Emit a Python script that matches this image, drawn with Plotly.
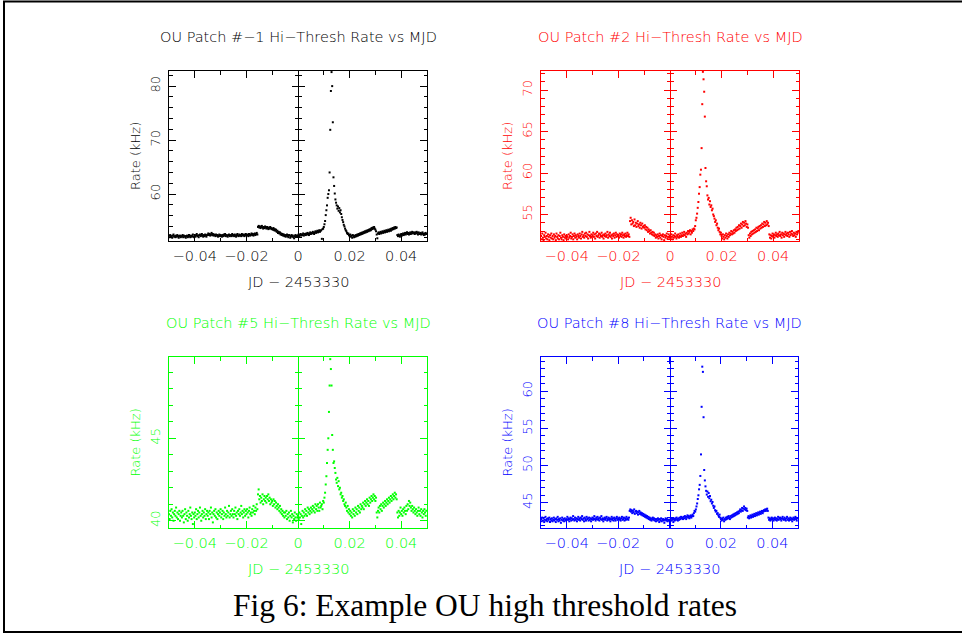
import numpy as np
import plotly.graph_objects as go

W, H = 962, 634

# ---- data: JD - 2453330 sampling and rates (kHz) per OU patch ----
t_start = -0.05
t_step = 0.00025

rate_patch_m1 = [
    52.3, 52.0, 52.4, 52.1, 52.2, 51.9, 52.3, 52.5, 52.1, 52.2, 52.0, 52.3, 52.1, 52.4, 52.2, 51.9, 52.2, 52.3, 52.0, 52.1,
    52.2, 52.4, 52.0, 52.3, 52.1, 52.2, 51.9, 52.2, 52.3, 52.0, 52.1, 52.4, 52.2, 52.0, 52.3, 52.1, 52.2, 52.5, 52.1, 52.0,
    52.3, 52.1, 52.4, 52.6, 52.2, 52.3, 52.0, 52.4, 52.5, 52.2, 52.3, 52.6, 52.3, 52.1, 52.4, 52.2, 52.5, 52.3, 52.1, 52.4,
    52.5, 52.7, 52.4, 52.6, 52.3, 52.5, 52.8, 52.4, 52.6, 52.3, 52.5, 52.4, 52.2, 52.5, 52.3, 52.4, 52.1, 52.3, 52.5, 52.2,
    52.4, 52.3, 52.1, 52.4, 52.2, 52.5, 52.3, 52.6, 52.2, 52.4, 52.3, 52.1, 52.4, 52.5, 52.2, 52.3, 52.4, 52.2, 52.6, 52.3,
    52.4, 52.2, 52.5, 52.3, 52.1, 52.4, 52.6, 52.3, 52.2, 52.5, 52.3, 52.4, 52.2, 52.6, 52.4, 52.3, 52.5, 52.2, 52.4, 52.6,
    52.3, 52.5, 52.4, 52.2, 52.6, 52.4, 52.3, 52.5, 52.7, 52.4, 52.6, 52.3, 52.5, 52.7, 52.4, 52.6, 52.8, 52.5, 53.9, 54.1,
    53.8, 54.0, 53.7, 53.9, 54.1, 53.8, 53.6, 53.9, 53.7, 54.0, 53.8, 53.6, 53.9, 53.7, 53.5, 53.8, 53.6, 53.9, 53.7, 53.5,
    53.6, 53.4, 53.7, 53.3, 53.5, 53.2, 53.4, 53.0, 53.2, 52.8, 53.0, 52.7, 52.9, 52.5, 52.7, 52.4, 52.6, 52.3, 52.5, 52.2,
    52.4, 52.1, 52.3, 52.5, 52.2, 52.0, 52.4, 52.3, 51.9, 52.2, 52.4, 52.1, 52.3, 52.0, 51.8, 52.2, 52.4, 52.1, 52.3, 52.2,
    52.3, 52.5, 52.2, 52.4, 52.6, 52.3, 52.5, 52.4, 52.7, 52.3, 52.5, 52.6, 52.4, 52.7, 52.5, 52.8, 52.6, 52.4, 52.7, 52.9,
    52.6, 52.8, 52.7, 53.0, 52.8, 52.6, 52.9, 53.1, 52.8, 53.0, 53.2, 52.9, 53.1, 53.3, 53.0, 53.2, 53.3, 51.7, 53.5, 53.6,
    53.9, 54.4, 55.0, 56.1, 57.0, 57.9, 59.3, 60.0, 60.7, 64.0, 71.9, 79.1, 82.6, 80.0, 73.3, 63.1, 61.5, 60.1, 59.0, 58.4,
    57.9, 57.3, 57.7, 56.9, 57.4, 56.6, 57.0, 56.3, 55.7, 55.2, 54.8, 54.3, 54.0, 53.6, 53.3, 53.1, 52.8, 52.6, 52.7, 52.4,
    52.2, 52.5, 52.1, 52.3, 51.9, 52.4, 52.2, 52.0, 52.3, 52.1, 52.4, 52.2, 52.5, 52.3, 52.6, 52.4, 52.7, 52.5, 52.8, 52.6,
    52.9, 52.7, 53.0, 52.8, 53.1, 52.9, 53.2, 53.0, 53.3, 53.1, 53.4, 53.2, 53.5, 53.3, 53.7, 53.5, 53.8, 53.6, 53.9, 53.6,
    53.4, 53.1, 52.5, 51.8, 52.7, 52.9, 52.6, 52.8, 53.0, 52.7, 52.9, 53.1, 52.8, 53.0, 53.2, 52.9, 53.1, 53.3, 53.0, 53.2,
    53.4, 53.1, 53.3, 53.5, 53.2, 53.6, 53.4, 53.7, 53.5, 53.8, 53.6, 53.9, 53.7, 53.8, 52.4, 52.2, 52.5, 52.3, 52.1, 52.4,
    52.6, 52.3, 52.5, 52.7, 52.4, 52.6, 52.8, 52.5, 52.7, 52.9, 52.6, 52.8, 52.5, 52.7, 52.9, 52.6, 52.8, 53.0, 52.7, 52.9,
    52.8, 52.6, 52.9, 52.7, 53.0, 52.8, 52.5, 52.9, 52.7, 52.6, 52.8, 52.5, 52.7, 52.9, 52.6, 52.4, 52.7, 52.5, 52.8, 52.6,
]

rate_patch_2 = [
    52.4, 52.0, 52.7, 52.2, 51.9, 52.5, 52.3, 52.8, 52.1, 52.4, 52.0, 52.6, 52.3, 51.9, 52.5, 52.2, 52.7, 52.1, 52.4, 52.0,
    52.6, 52.2, 52.4, 51.9, 52.7, 52.3, 52.1, 52.5, 52.0, 52.4, 52.8, 52.2, 52.0, 52.5, 52.3, 51.9, 52.6, 52.2, 52.4, 52.1,
    52.5, 52.3, 52.0, 52.6, 52.2, 52.4, 52.8, 52.1, 52.3, 52.6, 52.0, 52.4, 52.7, 52.2, 52.5, 52.3, 52.0, 52.6, 52.4, 52.2,
    52.7, 52.4, 52.1, 52.6, 52.9, 52.3, 52.5, 52.2, 52.7, 52.4, 52.8, 52.3, 52.6, 52.1, 52.5, 52.9, 52.4, 52.2, 52.6, 52.3,
    52.5, 52.8, 52.3, 52.6, 52.1, 52.7, 52.4, 52.9, 52.3, 52.5, 52.7, 52.2, 52.6, 52.4, 52.8, 52.3, 52.5, 52.1, 52.6, 52.4,
    52.7, 52.3, 52.5, 52.9, 52.2, 52.6, 52.4, 52.8, 52.3, 52.5, 52.1, 52.6, 52.4, 52.7, 52.2, 52.5, 52.8, 52.3, 52.6, 52.4,
    52.5, 52.2, 52.7, 52.4, 52.6, 52.3, 52.8, 52.5, 52.2, 52.6, 52.4, 52.7, 52.3, 52.5, 52.8, 52.4, 52.6, 52.3, 54.2, 54.6,
    53.8, 54.3, 53.9, 54.1, 53.6, 54.4, 53.7, 54.0, 53.5, 53.9, 54.2, 53.6, 53.8, 53.4, 54.0, 53.7, 53.3, 53.9, 53.5, 53.6,
    53.4, 53.7, 53.2, 53.5, 53.1, 53.4, 52.9, 53.2, 53.0, 52.7, 53.1, 52.8, 52.6, 52.9, 52.5, 52.8, 52.4, 52.6, 52.2, 52.5,
    52.3, 52.6, 52.1, 52.4, 52.7, 52.2, 52.5, 52.0, 52.4, 52.6, 52.3, 51.9, 52.5, 52.2, 52.4, 52.7, 52.1, 52.3, 52.6, 52.2,
    52.4, 52.1, 52.6, 52.3, 52.0, 52.5, 52.2, 52.4, 52.7, 52.3, 52.1, 52.5, 52.3, 52.6, 52.2, 52.4, 52.7, 52.3, 52.5, 52.8,
    52.4, 52.6, 52.9, 52.5, 52.7, 52.3, 52.8, 52.6, 53.0, 52.7, 52.9, 53.1, 52.6, 53.0, 52.8, 53.2, 53.0, 53.3, 53.2, 53.6,
    54.3, 54.6, 55.1, 55.8, 56.5, 57.5, 58.3, 59.8, 60.4, 63.0, 68.3, 72.2, 71.3, 69.8, 66.8, 60.6, 59.0, 58.4, 57.3, 56.8,
    57.0, 56.2, 56.6, 55.9, 56.1, 55.5, 55.7, 55.0, 54.8, 54.5, 54.1, 54.3, 53.7, 53.9, 53.4, 53.1, 53.3, 52.9, 52.6, 52.8,
    52.4, 52.1, 52.6, 52.3, 52.0, 52.5, 52.2, 52.7, 52.4, 52.1, 52.6, 52.3, 52.8, 52.5, 52.7, 53.0, 52.6, 52.9, 52.7, 53.1,
    52.8, 53.2, 53.0, 53.4, 53.1, 53.5, 53.2, 53.7, 53.3, 53.6, 53.9, 53.4, 53.8, 54.1, 53.6, 54.0, 53.7, 54.2, 53.9, 53.5,
    53.8, 53.4, 52.5, 52.2, 52.7, 52.4, 52.9, 52.6, 53.0, 52.7, 53.1, 52.8, 53.2, 52.9, 53.4, 53.0, 53.3, 53.5, 53.1, 53.6,
    53.3, 53.7, 53.4, 53.9, 53.5, 53.8, 54.1, 53.6, 54.0, 53.7, 54.2, 53.8, 54.0, 53.6, 52.6, 52.2, 52.5, 52.1, 52.4, 52.7,
    52.3, 52.6, 52.2, 52.5, 52.8, 52.4, 52.6, 52.3, 52.7, 52.5, 52.9, 52.4, 52.6, 52.2, 52.8, 52.5, 52.7, 52.3, 52.6, 52.9,
    52.5, 52.7, 52.4, 52.8, 52.6, 52.3, 52.9, 52.5, 52.7, 53.0, 52.6, 52.4, 52.8, 52.5, 52.7, 52.3, 52.9, 52.6, 52.8, 53.0,
]

rate_patch_5 = [
    40.4, 40.1, 40.6, 40.3, 40.7, 40.2, 40.5, 40.0, 40.4, 40.6, 40.3, 40.8, 40.2, 40.5, 40.1, 40.4, 40.6, 40.0, 40.3, 40.5,
    40.2, 40.6, 40.3, 39.9, 40.4, 40.7, 40.1, 40.5, 40.3, 40.0, 40.6, 40.2, 40.4, 40.8, 40.3, 40.1, 40.5, 39.8, 40.4, 40.2,
    40.5, 40.3, 40.7, 40.1, 40.4, 40.6, 40.2, 40.5, 40.8, 40.3, 40.0, 40.4, 40.6, 40.2, 40.5, 40.3, 40.7, 40.1, 40.4, 40.6,
    40.3, 40.5, 40.1, 40.6, 40.4, 40.8, 40.2, 40.5, 39.9, 40.4, 40.6, 40.3, 40.7, 40.2, 40.5, 40.1, 40.4, 40.6, 40.3, 40.5,
    40.7, 40.2, 40.4, 40.6, 40.1, 40.5, 40.3, 40.8, 40.4, 40.2, 40.6, 40.3, 40.5, 40.9, 40.2, 40.4, 40.6, 40.3, 40.7, 40.4,
    40.2, 40.6, 40.4, 40.8, 40.3, 40.5, 40.1, 40.6, 40.4, 40.7, 40.3, 40.5, 40.9, 40.4, 40.6, 40.2, 40.5, 40.7, 40.3, 40.6,
    40.4, 40.7, 40.5, 40.2, 40.6, 40.8, 40.4, 40.5, 40.3, 40.7, 40.5, 40.9, 40.6, 40.4, 40.8, 40.6, 41.0, 40.7, 41.6, 41.9,
    41.3, 41.5, 41.1, 41.4, 41.2, 41.6, 41.0, 41.3, 41.5, 41.2, 41.4, 41.1, 41.5, 41.3, 41.6, 41.2, 41.4, 41.0, 41.3, 41.1,
    41.2, 40.9, 41.3, 41.0, 41.2, 40.8, 41.1, 40.9, 40.7, 41.0, 40.8, 40.6, 40.9, 40.5, 40.7, 40.4, 40.6, 40.3, 40.5, 40.2,
    40.5, 40.3, 40.6, 40.1, 40.4, 40.2, 40.5, 40.0, 40.3, 40.6, 40.2, 40.4, 39.9, 40.3, 40.1, 40.5, 40.2, 40.0, 40.4, 40.2,
    40.3, 40.1, 40.5, 40.2, 40.4, 39.8, 40.3, 40.6, 40.2, 40.5, 40.3, 40.7, 40.4, 40.6, 40.3, 40.8, 40.5, 40.7, 40.4, 40.6,
    40.8, 40.5, 40.7, 40.9, 40.6, 40.8, 40.5, 41.0, 40.7, 40.9, 40.6, 41.0, 40.8, 40.6, 41.1, 40.8, 40.9, 41.0, 40.7, 41.2,
    41.1, 41.4, 41.7, 42.2, 42.7, 43.5, 44.3, 45.0, 46.6, 48.2, 49.8, 49.2, 48.2, 45.2, 44.3, 43.5, 43.6, 43.2, 42.9, 42.5,
    42.3, 42.6, 42.1, 42.4, 41.9, 42.0, 41.6, 41.7, 41.4, 41.5, 41.2, 41.3, 41.0, 40.9, 41.1, 40.8, 40.6, 40.9, 40.5, 40.7,
    40.4, 40.6, 40.3, 40.5, 40.2, 40.7, 40.4, 40.6, 40.3, 40.8, 40.5, 40.7, 40.4, 40.9, 40.6, 40.8, 40.5, 41.0, 40.7, 40.9,
    40.8, 41.1, 40.7, 41.0, 41.2, 40.9, 41.1, 41.3, 41.0, 41.2, 40.9, 41.4, 41.1, 41.3, 41.5, 41.2, 41.4, 41.6, 41.3, 41.5,
    41.2, 41.4, 40.5, 40.2, 40.6, 40.8, 40.5, 40.9, 40.7, 41.0, 40.6, 40.9, 41.1, 40.8, 41.0, 41.2, 40.9, 41.1, 41.3, 41.0,
    41.2, 41.4, 41.1, 41.3, 41.5, 41.2, 41.4, 41.6, 41.3, 41.5, 41.7, 41.4, 41.6, 41.3, 40.5, 40.2, 40.6, 40.3, 40.5, 40.8,
    40.4, 40.6, 40.3, 40.7, 40.5, 40.8, 40.6, 40.4, 40.9, 40.6, 41.0, 40.7, 41.2, 40.9, 41.1, 40.8, 40.6, 40.9, 40.7, 40.5,
    40.8, 40.6, 40.4, 40.7, 40.5, 40.3, 40.6, 40.8, 40.4, 40.6, 40.3, 40.7, 40.5, 40.2, 40.6, 40.4, 40.7, 40.5, 40.3, 40.6,
]

rate_patch_8 = [
    42.8, 42.5, 43.0, 42.6, 42.9, 42.4, 42.7, 43.1, 42.6, 42.8, 42.5, 42.9, 42.7, 43.0, 42.4, 42.8, 42.6, 42.9, 42.5, 42.7,
    43.0, 42.6, 42.8, 42.4, 42.9, 42.7, 43.1, 42.5, 42.8, 42.6, 42.9, 42.3, 42.7, 43.0, 42.6, 42.8, 42.5, 42.9, 42.7, 42.6,
    42.8, 43.1, 42.7, 42.9, 42.5, 42.8, 43.0, 42.6, 42.9, 42.7, 43.2, 42.8, 42.6, 43.0, 42.7, 42.9, 42.5, 42.8, 43.1, 42.7,
    42.9, 42.6, 43.0, 42.8, 43.2, 42.7, 42.9, 42.5, 43.0, 42.8, 42.6, 43.1, 42.8, 42.9, 42.6, 43.0, 42.7, 42.9, 42.5, 42.8,
    43.0, 42.7, 42.9, 43.2, 42.8, 42.6, 43.0, 42.8, 43.1, 42.7, 42.9, 42.6, 43.0, 42.8, 43.2, 42.7, 42.9, 42.5, 42.8, 43.0,
    42.7, 42.9, 43.1, 42.6, 42.8, 43.0, 42.7, 42.9, 42.5, 42.8, 43.1, 42.7, 42.9, 42.6, 43.0, 42.8, 42.6, 42.9, 43.1, 42.7,
    42.9, 42.7, 43.0, 42.8, 42.6, 42.9, 43.1, 42.7, 42.8, 43.0, 42.6, 42.9, 42.7, 43.1, 42.8, 42.9, 42.7, 43.0, 43.9, 44.1,
    43.8, 44.0, 43.6, 43.9, 43.7, 44.1, 43.5, 43.8, 43.9, 43.6, 43.8, 43.4, 43.7, 43.9, 43.5, 43.7, 43.4, 43.6, 43.3, 43.5,
    43.2, 43.4, 43.1, 43.3, 43.0, 43.2, 42.9, 43.1, 42.8, 43.0, 42.7, 42.9, 42.6, 42.8, 43.0, 42.7, 42.9, 42.6, 42.8, 42.5,
    42.8, 42.6, 42.9, 42.7, 42.4, 42.8, 42.6, 42.9, 42.5, 42.7, 42.8, 42.6, 42.3, 42.7, 42.9, 42.6, 42.8, 42.5, 42.7, 42.6,
    42.7, 42.5, 42.8, 42.6, 42.9, 42.7, 42.4, 42.8, 42.6, 42.9, 42.7, 43.0, 42.8, 42.6, 42.9, 42.7, 43.0, 42.8, 43.1, 42.9,
    43.0, 42.8, 43.1, 42.9, 43.2, 43.0, 42.8, 43.1, 43.3, 43.0, 43.2, 42.9, 43.1, 43.3, 43.0, 43.2, 43.4, 43.2, 43.6, 43.9,
    43.8, 44.1, 44.5, 44.9, 45.5, 46.0, 46.8, 47.4, 48.6, 51.5, 57.9, 63.3, 62.6, 56.5, 49.4, 48.0, 47.2, 46.6, 46.1, 46.5,
    45.8, 46.3, 45.6, 45.9, 45.2, 45.4, 44.9, 45.1, 44.6, 44.3, 44.5, 44.0, 43.8, 43.9, 43.5, 43.6, 43.3, 43.1, 43.4, 43.0,
    42.8, 42.6, 42.9, 42.7, 43.0, 42.5, 42.8, 42.7, 43.0, 42.8, 43.1, 42.9, 43.2, 43.0, 42.8, 43.2, 43.0, 43.3, 43.1, 43.4,
    43.2, 43.5, 43.3, 43.6, 43.4, 43.7, 43.5, 43.8, 43.6, 43.9, 44.1, 43.8, 44.0, 44.3, 43.9, 44.2, 44.5, 44.1, 44.3, 44.0,
    44.2, 43.9, 43.0, 43.2, 42.9, 43.1, 43.3, 43.0, 43.2, 43.4, 43.1, 43.3, 43.5, 43.2, 43.4, 43.6, 43.3, 43.5, 43.7, 43.4,
    43.6, 43.8, 43.5, 43.7, 43.9, 43.6, 43.8, 44.0, 43.9, 44.1, 43.9, 44.1, 44.2, 43.9, 43.0, 42.7, 42.9, 42.6, 42.8, 43.0,
    42.7, 42.9, 42.6, 42.8, 43.0, 42.7, 42.9, 42.6, 42.8, 43.1, 42.7, 42.9, 43.0, 42.8, 42.6, 42.9, 43.1, 42.8, 42.7, 43.0,
    42.8, 42.6, 42.9, 43.1, 42.7, 42.9, 42.6, 42.8, 43.0, 42.7, 42.9, 42.5, 42.8, 43.0, 42.7, 42.9, 43.1, 42.8, 42.6, 42.9,
]

patch_titles = [
    "OU Patch #\u22121 Hi\u2212Thresh Rate vs MJD",
    "OU Patch #2 Hi\u2212Thresh Rate vs MJD",
    "OU Patch #5 Hi\u2212Thresh Rate vs MJD",
    "OU Patch #8 Hi\u2212Thresh Rate vs MJD",
]
patch_rates = [rate_patch_m1, rate_patch_2, rate_patch_5, rate_patch_8]
y_ranges = [[51.3, 82.8], [51.8, 72.3], [39.56, 49.93], [41.6, 64.6]]
y_major = [10, 5, 5, 5]
y_minor = [2, 1, 1, 1]
x_range = [-0.05, 0.05]
x_title = "JD \u2212 2453330"
y_title = "Rate (kHz)"
caption = "Fig 6: Example OU high threshold rates"

# ---- styling / layout ----
colors = ["#000000", "#ff0000", "#00ff00", "#0000ff"]
FONT = "DejaVu Sans"
FW = 200      # thin strokes like the vector font of the original
FS_H = 14.5   # horizontal texts (titles, x tick labels, x title)
FS_V = 13     # rotated texts (y tick labels, y title)
# plot frames in pixels: (left, right, top, bottom)
frames = [(169, 427, 71, 241), (541, 799, 71, 241), (169, 427, 357, 528), (541, 798, 357, 528)]

fig = go.Figure()
annotations = []
for k in range(4):
    c = colors[k]
    l, r, t, b = frames[k]
    dx = [l / W, r / W]
    dy = [1 - b / H, 1 - t / H]
    sfx = "" if k == 0 else str(k + 1)
    rates = patch_rates[k]
    jd = t_start + t_step * np.arange(len(rates))

    fig.add_trace(go.Scatter(
        x=jd, y=rates, mode="markers",
        marker=dict(symbol="square", size=2, color=c, line=dict(width=0)),
        xaxis="x" + sfx, yaxis="y" + sfx, showlegend=False, hoverinfo="skip"))

    fig.layout["xaxis" + sfx] = dict(
        domain=dx, range=x_range, anchor="y" + sfx,
        showline=True, linecolor=c, linewidth=1, mirror="ticks",
        ticks="inside", ticklen=7, tickwidth=1, tickcolor=c,
        tick0=0, dtick=0.02,
        minor=dict(ticks="inside", dtick=0.01, ticklen=3.5, tickwidth=1, tickcolor=c),
        showgrid=False, zeroline=False,
        tickfont=dict(family=FONT, size=FS_H, color=c, weight=FW), ticklabelstandoff=2)
    fig.layout["yaxis" + sfx] = dict(
        domain=dy, range=y_ranges[k], anchor="x" + sfx,
        showline=True, linecolor=c, linewidth=1, mirror="ticks",
        ticks="inside", ticklen=7, tickwidth=1, tickcolor=c,
        tick0=0, dtick=y_major[k],
        minor=dict(ticks="inside", dtick=y_minor[k], ticklen=3.5, tickwidth=1, tickcolor=c),
        showgrid=False, zeroline=False, tickangle=-90,
        tickfont=dict(family=FONT, size=FS_V, color=c, weight=FW), ticklabelstandoff=3)

    # vertical axis through x = 0 with ticks crossing both sides
    pos0 = dx[0] + (0 - x_range[0]) / (x_range[1] - x_range[0]) * (dx[1] - dx[0])
    for j, tdir in enumerate(["outside", "inside"]):
        n = 5 + k + 4 * j
        fig.layout[f"yaxis{n}"] = dict(
            overlaying="y" + sfx, anchor="free", position=pos0, side="left",
            range=y_ranges[k], showline=True, linecolor=c, linewidth=1,
            ticks=tdir, ticklen=6, tickwidth=1, tickcolor=c,
            tick0=0, dtick=y_major[k],
            minor=dict(ticks=tdir, dtick=y_minor[k], ticklen=3, tickwidth=1, tickcolor=c),
            showticklabels=False, showgrid=False, zeroline=False)
        fig.add_trace(go.Scatter(x=[None], y=[None], xaxis="x" + sfx, yaxis=f"y{n}",
                                 showlegend=False, hoverinfo="skip"))

    cx = (l + r) / 2
    cy = (t + b) / 2
    annotations.append(dict(text=patch_titles[k], x=cx / W, y=1 - (t - 34) / H,
                            xref="paper", yref="paper", showarrow=False,
                            xanchor="center", yanchor="middle",
                            font=dict(family=FONT, size=FS_H, color=c, weight=FW)))
    annotations.append(dict(text=x_title, x=cx / W, y=1 - (b + 41) / H,
                            xref="paper", yref="paper", showarrow=False,
                            xanchor="center", yanchor="middle",
                            font=dict(family=FONT, size=FS_H, color=c, weight=FW)))
    annotations.append(dict(text=y_title, x=(l - 34) / W, y=1 - cy / H, textangle=-90,
                            xref="paper", yref="paper", showarrow=False,
                            xanchor="center", yanchor="middle",
                            font=dict(family=FONT, size=FS_V, color=c, weight=FW)))

annotations.append(dict(text=caption, x=485 / W, y=1 - 605 / H, xref="paper", yref="paper",
                        showarrow=False, xanchor="center", yanchor="middle",
                        font=dict(family="Liberation Serif", size=31.5, color="#000000")))

shapes = [
    dict(type="line", xref="paper", yref="paper", x0=4 / W, x1=4 / W, y0=1 - 1 / H, y1=1 - 632 / H,
         line=dict(color="black", width=2)),
    dict(type="line", xref="paper", yref="paper", x0=3 / W, x1=1, y0=1 - 1.5 / H, y1=1 - 1.5 / H,
         line=dict(color="black", width=2)),
    dict(type="line", xref="paper", yref="paper", x0=3 / W, x1=1, y0=1 - 632 / H, y1=1 - 632 / H,
         line=dict(color="black", width=2)),
]

fig.update_layout(
    width=W, height=H, margin=dict(l=0, r=0, t=0, b=0),
    paper_bgcolor="white", plot_bgcolor="white",
    annotations=annotations, shapes=shapes, showlegend=False,
)

fig.write_html("out.html")
